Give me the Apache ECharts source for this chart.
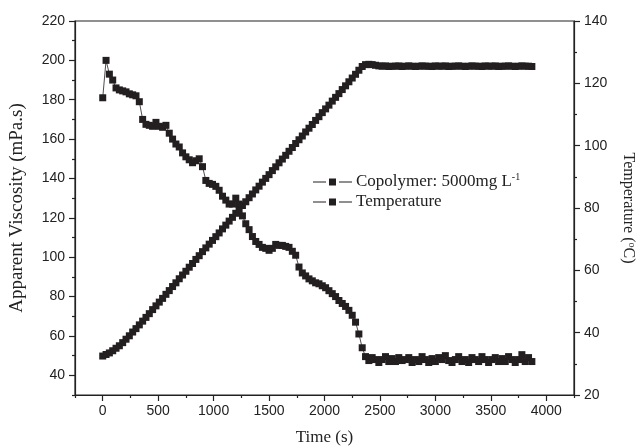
<!DOCTYPE html>
<html><head><meta charset="utf-8">
<script src="https://cdn.jsdelivr.net/npm/echarts@6/dist/echarts.min.js"></script>
<style>html,body{margin:0;padding:0;background:#fff}#c{width:638px;height:448px}</style>
</head><body><div id="c"></div>
<script>
var timeS = [0,30,60,90,120,150,180,210,240,270,300,330,360,390,420,450,480,510,540,570,600,630,660,690,720,750,780,810,840,870,900,930,960,990,1020,1050,1080,1110,1140,1170,1200,1230,1260,1290,1320,1350,1380,1410,1440,1470,1500,1530,1560,1590,1620,1650,1680,1710,1740,1770,1800,1830,1860,1890,1920,1950,1980,2010,2040,2070,2100,2130,2160,2190,2220,2250,2280,2310,2340,2370,2400,2430,2460,2490,2520,2550,2580,2610,2640,2670,2700,2730,2760,2790,2820,2850,2880,2910,2940,2970,3000,3030,3060,3090,3120,3150,3180,3210,3240,3270,3300,3330,3360,3390,3420,3450,3480,3510,3540,3570,3600,3630,3660,3690,3720,3750,3780,3810,3840,3870];
var viscosity = [181,200,193,190,186,185,184.5,184,183,182.5,182,179,170,167.5,167,166.5,168.5,166.5,166,167,163,160,157.5,156,153,151,149.5,148,149,150,146,139,137.5,137,136,134,131,129,127,127,130,127,121,117,114,110.5,108,106.5,105,104.5,103.5,104.5,106.5,106,106,105.5,105,103,101,95,92,90.5,89,88,87,86.5,85.5,84.5,83,81.5,80,78,76.5,75,73,70.5,67,61,54,49.5,47.5,
49,48,46.5,48,49.5,47,48.5,47,49,47.5,48,49,46.5,48,47,49.5,48,46.5,48.5,47,49,48,50,47.5,46.5,48,49.5,47,48,46.5,49,48,47,49.5,48,46.5,48,49,47,48.5,47,49.5,48,46.5,48,50.5,47,49,47];
var temperature = [32.5,33.0,33.5,34.2,35.0,35.8,36.8,37.9,39.0,40.2,41.3,42.5,43.7,44.9,46.1,47.4,48.6,49.8,51.0,52.3,53.5,54.8,56.0,57.3,58.5,59.7,61.0,62.2,63.5,64.7,66.0,67.2,68.4,69.6,70.8,72.0,73.3,74.5,75.8,77.0,78.3,79.5,80.8,82.0,83.3,84.5,85.8,87.0,88.3,89.5,90.7,92.0,93.2,94.5,95.7,96.9,98.2,99.4,100.7,101.9,103.1,104.4,105.6,106.8,108.1,109.3,110.6,111.8,113.0,114.3,115.5,116.7,118.0,119.2,120.5,121.7,122.9,124.2,125.4,126.0,
126.1,126.0,125.8,125.6,125.5,125.6,125.4,125.5,125.5,125.6,125.4,125.5,125.6,125.5,125.4,125.5,125.6,125.5,125.5,125.4,125.6,125.5,125.5,125.6,125.4,125.5,125.5,125.6,125.5,125.4,125.5,125.6,125.5,125.5,125.4,125.6,125.5,125.5,125.6,125.4,125.5,125.5,125.6,125.5,125.4,125.5,125.6,125.5,125.5,125.4];
var xMajorTicks = [0,500,1000,1500,2000,2500,3000,3500,4000];
var xMinorTicks = [-250,250,750,1250,1750,2250,2750,3250,3750,4250];
var yLeftMajorTicks = [40,60,80,100,120,140,160,180,200,220];
var yLeftMinorTicks = [30,50,70,90,110,130,150,170,190,210];
var seriesNames = ['Copolymer: 5000mg L{sup|-1}', 'Temperature'];

var INK = '#231f20';
function zip(a, b) { return a.map(function (t, i) { return [t, b[i]]; }); }
function plain(v) { return String(v); }
var tickFont = { fontFamily: 'Liberation Sans, Arial, sans-serif', fontSize: 14, color: '#222', formatter: plain };
var nameFont = { fontFamily: 'Liberation Serif, Times New Roman, serif', color: '#222' };
var axLine = { show: true, onZero: false, lineStyle: { color: '#222', width: 1.2 } };
var noLine = { show: false, onZero: false };
var legendIcon = 'path://M0,3H13V4H0Z M16,0H23V7H16Z M26,3H39V4H26Z';

var chart = echarts.init(document.getElementById('c'), null, { renderer: 'canvas' });
chart.setOption({
  animation: false,
  backgroundColor: '#fff',
  grid: { left: 75, right: 64, top: 21, bottom: 53, show: true, borderColor: '#222', borderWidth: 1.2, containLabel: false, outerBoundsMode: 'none' },
  legend: {
    data: ['v', 't'], icon: legendIcon,
    orient: 'vertical', left: 308, top: 167, itemWidth: 39, itemHeight: 7, itemGap: 3,
    formatter: function (n) { return n === 'v' ? seriesNames[0] : seriesNames[1]; },
    textStyle: { fontFamily: 'Liberation Serif, Times New Roman, serif', fontSize: 17, color: '#222', padding: [0, 0, 0, -1],
      rich: { sup: { fontFamily: 'Liberation Serif, serif', fontSize: 10, color: '#222', verticalAlign: 'top', padding: [0, 0, 10, 0] } } }
  },
  xAxis: [
    { type: 'value', min: -250, max: 4250, interval: 250, position: 'bottom',
      name: 'Time (s)', nameLocation: 'middle', nameGap: 34, nameTextStyle: Object.assign({ fontSize: 17 }, nameFont),
      axisLine: axLine, splitLine: { show: false },
      axisTick: { show: true, length: 6, customValues: xMajorTicks, lineStyle: { color: '#222', width: 1.2 } },
      axisLabel: Object.assign({ margin: 9, customValues: xMajorTicks }, tickFont) },
    { type: 'value', min: -250, max: 4250, position: 'bottom', gridIndex: 0,
      axisLine: noLine, splitLine: { show: false },
      axisTick: { show: true, length: 3, customValues: xMinorTicks, lineStyle: { color: '#222', width: 1.2 } },
      axisLabel: { show: false } }
  ],
  yAxis: [
    { type: 'value', min: 30, max: 220, interval: 10, position: 'left',
      name: 'Apparent Viscosity (mPa.s)', nameLocation: 'middle', nameGap: 48, nameTextStyle: Object.assign({ fontSize: 19 }, nameFont),
      axisLine: axLine, splitLine: { show: false },
      axisTick: { show: true, length: 6, customValues: yLeftMajorTicks, lineStyle: { color: '#222', width: 1.2 } },
      axisLabel: Object.assign({ margin: 10, customValues: yLeftMajorTicks }, tickFont) },
    { type: 'value', min: 20, max: 140, interval: 20, position: 'right',
      name: 'Temperature ({sup|o}C)', nameLocation: 'middle', nameRotate: -90, nameGap: 45,
      nameTextStyle: Object.assign({ fontSize: 16, rich: { sup: { fontFamily: 'Liberation Serif, serif', fontSize: 10, color: '#222', padding: [0, 0, 8, 0] } } }, nameFont),
      axisLine: axLine, splitLine: { show: false },
      axisTick: { show: true, length: 6, lineStyle: { color: '#222', width: 1.2 } },
      minorTick: { show: true, splitNumber: 2, length: 3, lineStyle: { color: '#222', width: 1.2 } },
      minorSplitLine: { show: false },
      axisLabel: Object.assign({ margin: 10 }, tickFont) },
    { type: 'value', min: 30, max: 220, position: 'left',
      axisLine: noLine, splitLine: { show: false },
      axisTick: { show: true, length: 3, customValues: yLeftMinorTicks, lineStyle: { color: '#222', width: 1.2 } },
      axisLabel: { show: false } }
  ],
  series: [
    { name: 'v', type: 'line', xAxisIndex: 0, yAxisIndex: 0, data: zip(timeS, viscosity),
      symbol: 'rect', symbolSize: 7, showAllSymbol: true, lineStyle: { color: INK, width: 0.8 }, itemStyle: { color: INK } },
    { name: 't', type: 'line', xAxisIndex: 0, yAxisIndex: 1, data: zip(timeS, temperature),
      symbol: 'rect', symbolSize: 7, showAllSymbol: true, lineStyle: { color: INK, width: 0.8 }, itemStyle: { color: INK } }
  ]
});
</script>
</body></html>
